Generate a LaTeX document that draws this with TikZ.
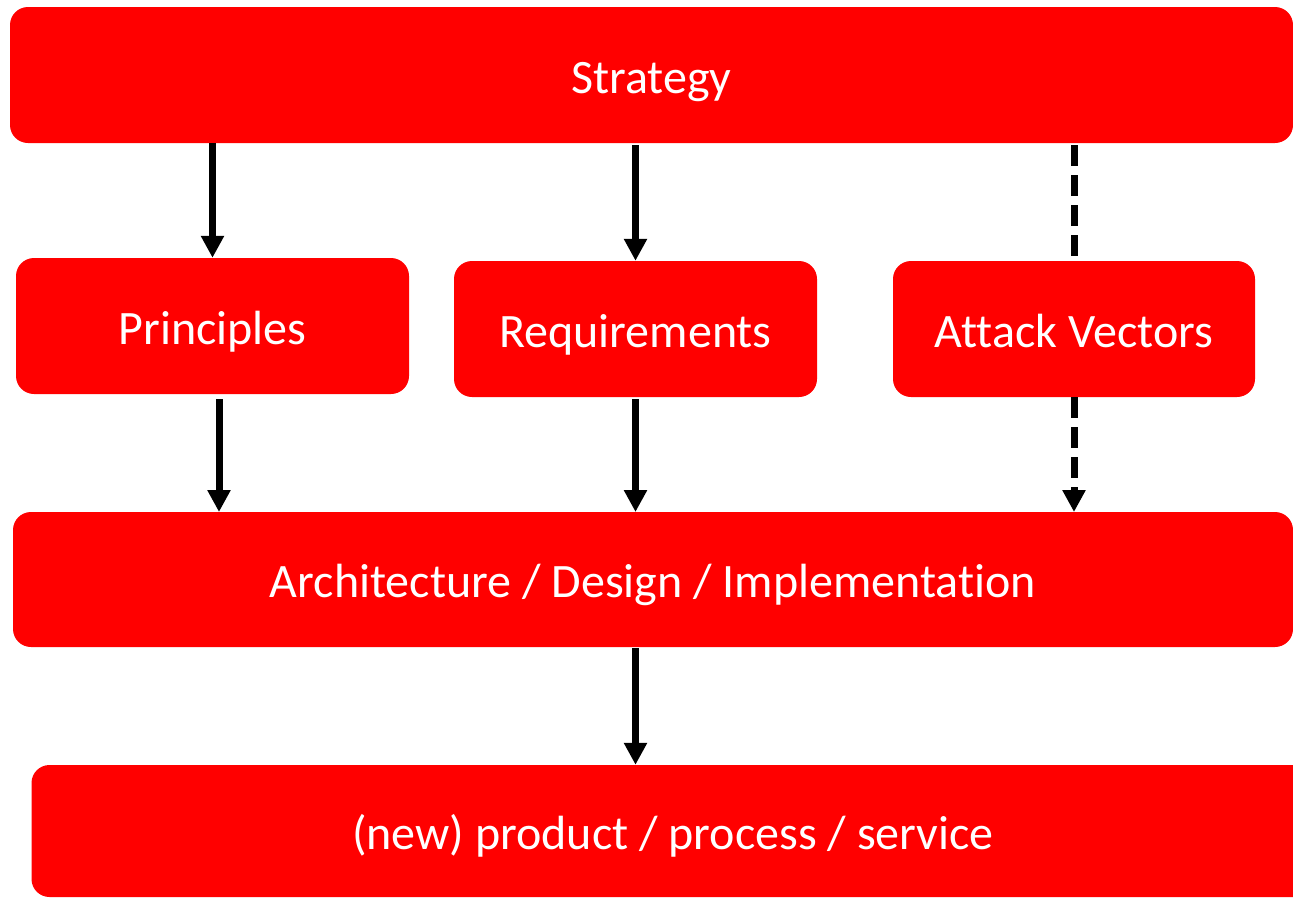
\documentclass[tikz,border=0pt]{standalone}
\usepackage{fontspec}
\setmainfont{Carlito}[Ligatures={NoCommon}]
\usetikzlibrary{arrows.meta}
\begin{document}
\begin{tikzpicture}[x=1pt,y=-1pt,
  block/.style={rectangle, rounded corners=18pt, fill={rgb,255:red,255;green,0;blue,0},
    draw=none, text=white, font=\fontsize{48}{56}\selectfont, inner sep=0pt,
    text height=43pt, text depth=7pt, anchor=center},
  flow/.style={line width=7pt, -{Triangle[width=22pt,length=22pt]}},
  flowdash/.style={flow, dash pattern=on 21pt off 9pt},
  plain dash/.style={line width=7pt, dash pattern=on 21pt off 9pt}]
  \useasboundingbox (0,0) rectangle (1293,897);
  \clip (0,0) rectangle (1293,897);

  % main blocks
  \node[block, minimum width=1283pt, minimum height=136pt] (strat) at (651.5,75) {Strategy};
  \node[block, minimum width=393pt, minimum height=136pt] (princ) at (212.5,326) {Principles};
  \node[block, minimum width=363pt, minimum height=136pt] (req) at (635.5,329) {Requirements};
  \node[block, minimum width=362pt, minimum height=136pt] (atk) at (1074,329) {Attack Vectors};
  \node[block, minimum width=1280pt, minimum height=135pt] (arch) at (653,579.5) {Architecture / Design / Implementation};
  \node[block, minimum width=1283pt, minimum height=132pt] (prod) at (673,831) {(new) product / process / service};

  % connectors
  \draw[flow] (strat.south -| princ.north) -- (princ.north);
  \draw[flow] (635.5,145) -- (req.north);
  \coordinate (atktop) at (1074,256);
  \draw[plain dash] (1074,145) -- (atktop);
  \draw[flow] (219,399) -- (219,512);
  \draw[flow] (req.south) ++(0,2) -- (635.5,512);
  \draw[flowdash] (atk.south) -- (1074,512);
  \draw[flow] (635.5,648) -- (prod.north -| 635.5,0);
\end{tikzpicture}
\end{document}
